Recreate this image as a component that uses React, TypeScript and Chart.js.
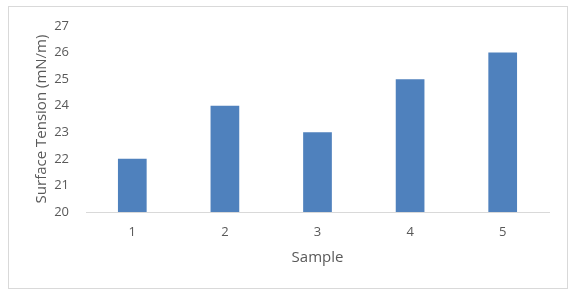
import React, { useEffect, useRef } from "react";
import { Chart, registerables } from "chart.js";

Chart.register(...registerables);

const categories = ["1", "2", "3", "4", "5"];
const surfaceTension = [22, 24, 23, 25, 26];
const yMin = 20;
const yMax = 27;

const FONT = "'Open Sans', sans-serif";
const TEXT = "#595959";

export default function App() {
  const ref = useRef<HTMLCanvasElement | null>(null);

  useEffect(() => {
    if (!ref.current) return;
    const chart = new Chart(ref.current, {
      type: "bar",
      data: {
        labels: categories,
        datasets: [
          {
            data: surfaceTension,
            backgroundColor: "#4F81BD",
            categoryPercentage: 1,
            barPercentage: 0.31,
          },
        ],
      },
      options: {
        animation: false,
        responsive: false,
        maintainAspectRatio: false,
        layout: { padding: { left: 0, right: 25, top: 26, bottom: 0 } },
        plugins: { legend: { display: false }, tooltip: { enabled: false } },
        scales: {
          x: {
            grid: { display: false, drawTicks: false },
            border: { color: "#D9D9D9", width: 1 },
            ticks: { color: TEXT, font: { family: FONT, size: 13 }, padding: 12 },
            title: {
              display: true,
              text: "Sample",
              color: TEXT,
              font: { family: FONT, size: 15 },
              padding: { top: 0, bottom: 27 },
            },
            afterFit: (s: any) => {
              s.height = 294 - 212;
            },
          },
          y: {
            min: yMin,
            max: yMax,
            grid: { display: false, drawTicks: false },
            border: { display: false },
            ticks: {
              stepSize: 1,
              color: TEXT,
              font: { family: FONT, size: 13 },
              padding: 17,
            },
            title: {
              display: true,
              text: "Surface Tension (mN/m)",
              color: TEXT,
              font: { family: FONT, size: 15 },
              padding: { top: 33, bottom: 0 },
            },
            afterFit: (s: any) => {
              s.width = 86;
            },
          },
        },
      },
    });
    return () => chart.destroy();
  }, []);

  return (
    <div style={{ position: "absolute", left: 0, top: 0, width: 574, height: 294, background: "#fff" }}>
      <div
        style={{
          position: "absolute",
          left: 8,
          top: 6,
          width: 560,
          height: 283,
          border: "1px solid #D9D9D9",
          boxSizing: "border-box",
        }}
      />
      <canvas ref={ref} width={574} height={294} style={{ position: "absolute", left: 0, top: 0 }} />
    </div>
  );
}
